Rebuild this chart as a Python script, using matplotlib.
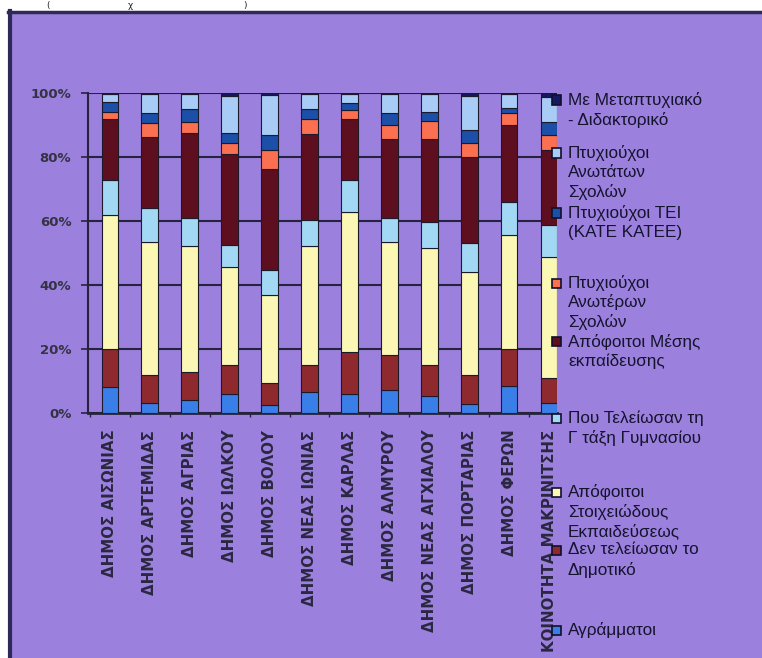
import matplotlib
matplotlib.use("Agg")
import matplotlib.pyplot as plt
from matplotlib.patches import Rectangle
from matplotlib import font_manager

# municipalities (x axis)
places = ["ΔΗΜΟΣ ΑΙΣΩΝΙΑΣ", "ΔΗΜΟΣ ΑΡΤΕΜΙΔΑΣ", "ΔΗΜΟΣ ΑΓΡΙΑΣ", "ΔΗΜΟΣ ΙΩΛΚΟΥ",
          "ΔΗΜΟΣ ΒΟΛΟΥ", "ΔΗΜΟΣ ΝΕΑΣ ΙΩΝΙΑΣ", "ΔΗΜΟΣ ΚΑΡΛΑΣ", "ΔΗΜΟΣ ΑΛΜΥΡΟΥ",
          "ΔΗΜΟΣ ΝΕΑΣ ΑΓΧΙΑΛΟΥ", "ΔΗΜΟΣ ΠΟΡΤΑΡΙΑΣ", "ΔΗΜΟΣ ΦΕΡΩΝ",
          "ΚΟΙΝΟΤΗΤΑ ΜΑΚΡΙΝΙΤΣΗΣ"]

# shares in %, bottom to top of each bar
agrammatoi = [8.2, 3.0, 4.2, 5.9, 2.5, 6.7, 6.0, 7.2, 5.3, 2.7, 8.5, 3.0]
den_dimotiko = [11.7, 8.9, 8.5, 9.1, 6.8, 8.3, 13.2, 10.9, 9.7, 9.2, 11.4, 7.8]
stoixeiodous = [42.0, 41.6, 39.6, 30.7, 27.6, 37.3, 43.7, 35.4, 36.5, 32.3, 35.7, 38.0]
gymnasiou = [10.9, 10.5, 8.5, 6.8, 7.8, 8.0, 9.9, 7.3, 8.3, 8.8, 10.4, 10.0]
mesis = [19.0, 22.2, 26.6, 28.4, 31.4, 26.9, 19.0, 24.7, 25.7, 27.1, 24.0, 23.4]
anoteron = [2.2, 4.5, 3.6, 3.4, 6.1, 4.6, 2.9, 4.5, 5.9, 4.2, 3.6, 4.7]
tei = [3.3, 2.9, 3.9, 3.1, 4.7, 3.1, 2.1, 3.6, 2.8, 4.1, 1.6, 4.1]
anotaton = [2.4, 6.1, 4.8, 11.8, 12.5, 4.8, 2.9, 6.1, 5.4, 10.6, 4.5, 7.6]
metaptyxiako = [0.3, 0.3, 0.3, 0.8, 0.6, 0.3, 0.3, 0.3, 0.4, 1.0, 0.3, 1.4]

series = [agrammatoi, den_dimotiko, stoixeiodous, gymnasiou, mesis,
          anoteron, tei, anotaton, metaptyxiako]
labels = ["Αγράμματοι", "Δεν τελείωσαν το\nΔημοτικό",
          "Απόφοιτοι\nΣτοιχειώδους\nΕκπαιδεύσεως",
          "Που Τελείωσαν τη\nΓ τάξη Γυμνασίου",
          "Απόφοιτοι Μέσης\nεκπαίδευσης",
          "Πτυχιούχοι\nΑνωτέρων\nΣχολών",
          "Πτυχιούχοι ΤΕΙ\n(ΚΑΤΕ ΚΑΤΕΕ)",
          "Πτυχιούχοι\nΑνωτάτων\nΣχολών",
          "Με Μεταπτυχιακό\n- Διδακτορικό"]
colors = ["#3a7fe8", "#8e2a2e", "#fbf7b5", "#a3d8f5", "#5e0f1f",
          "#fb7050", "#1c4fa8", "#a8ccf5", "#161860"]
# legend rows (pixels from top), bottom series first
legend_y = [630, 550, 492, 418, 342, 283, 213, 153, 100]

W, H = 762, 658
bg = "#9c80de"
dark = "#26233f"

names = {f.name for f in font_manager.fontManager.ttflist}
if "Liberation Sans Narrow" in names:
    leg_font, leg_size = "Liberation Sans Narrow", 13.5
else:
    leg_font, leg_size = "Liberation Sans", 12.3


def fx(px):
    return px / W


def fy(py):
    return 1 - py / H


fig = plt.figure(figsize=(W / 100, H / 100), dpi=100, facecolor="white")
fig.add_artist(Rectangle((fx(8), 0), 1 - fx(8), fy(11), transform=fig.transFigure,
                         facecolor=bg, edgecolor="none", zorder=0))
fig.add_artist(plt.Line2D([fx(9.5), fx(9.5)], [0, fy(11)], color="#2e2a55", lw=3,
                          transform=fig.transFigure))
fig.add_artist(plt.Line2D([fx(8), 1], [fy(12), fy(12)], color="#2e2a55", lw=2.5,
                          transform=fig.transFigure))
# heading remnant above the frame
for ch, x in [("(", 46), ("χ", 128), (")", 243)]:
    fig.text(fx(x), fy(1), ch, fontsize=6.5, color="#222222", va="top")

ax = fig.add_axes([fx(88), fy(413), fx(557) - fx(88), fy(93) - fy(413)])
ax.set_facecolor("none")

x = list(range(len(places)))
bottom = [0.0] * len(places)
for vals, col in zip(series, colors):
    ax.bar(x, vals, width=0.42, bottom=bottom, color=col, edgecolor="#1a1a2a",
           linewidth=0.8, zorder=3)
    bottom = [b + v for b, v in zip(bottom, vals)]

ax.set_xlim(-0.55, 11.2)
ax.set_ylim(0, 100)
ax.set_yticks([0, 20, 40, 60, 80, 100])
ax.set_yticklabels(["0%", "20%", "40%", "60%", "80%", "100%"])
ax.yaxis.grid(True, color=dark, lw=1.5, zorder=1)
ax.set_axisbelow(True)
ax.set_xticks(x)
ax.set_xticklabels(places, rotation=90, fontsize=10.8, fontweight="bold",
                   color="#2a2840", family="DejaVu Sans")
ax.set_xticks([i + 0.5 for i in x[:-1]] + [-0.5], minor=True)
ax.tick_params(axis="x", which="major", length=0, pad=12)
ax.tick_params(axis="x", which="minor", length=3, color=dark, width=1)
ax.tick_params(axis="y", length=5, width=1.2, color=dark, pad=7,
               labelsize=9.5, labelcolor="#333344")
for t in ax.get_yticklabels():
    t.set_fontweight("bold")
for s in ["top", "right"]:
    ax.spines[s].set_visible(False)
ax.spines["left"].set_color(dark)
ax.spines["left"].set_linewidth(1.5)
ax.spines["bottom"].set_color(dark)
ax.spines["bottom"].set_linewidth(2)

# legend drawn by hand, Excel-style spacing
for lab, col, y in zip(labels, colors, legend_y):
    fig.add_artist(Rectangle((fx(552), fy(y + 4.5)), fx(9), 9 / H,
                             transform=fig.transFigure, facecolor=col,
                             edgecolor="#10102a", lw=1.2))
    for k, line in enumerate(lab.split("\n")):
        fig.text(fx(568), fy(y + 19.5 * k), line, va="center", ha="left",
                 fontsize=leg_size, color="#14142e", family=[leg_font, "DejaVu Sans"])

fig.savefig("out.png", dpi=100, facecolor="white")
